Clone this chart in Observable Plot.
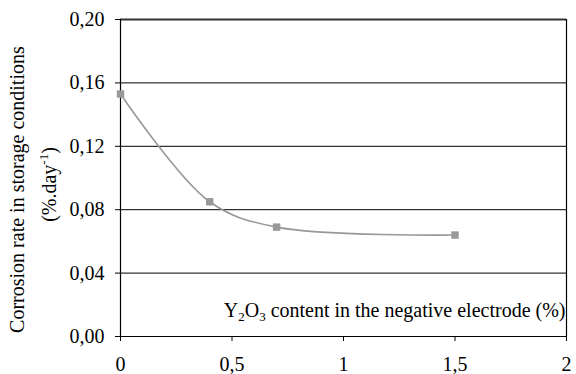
<!DOCTYPE html>
<html>
<head>
<meta charset="utf-8">
<script src="https://cdn.jsdelivr.net/npm/d3@7"></script>
<script src="https://cdn.jsdelivr.net/npm/@observablehq/plot@0.6"></script>
<style>
  html, body { margin: 0; padding: 0; background: #fff; }
  #chart { width: 576px; height: 374px; }
</style>
</head>
<body>
<div id="chart"></div>
<script>
// Data
const y2o3Content = [0, 0.4, 0.7, 1.5];          // % Y2O3 in negative electrode
const corrosionRate = [0.153, 0.085, 0.069, 0.064]; // %.day^-1
const xTicks = [0, 0.5, 1, 1.5, 2];
const yTicks = [0, 0.04, 0.08, 0.12, 0.16, 0.2];
const xLabel = ["Y", "2", "O", "3", " content in the negative electrode (%)"];
const yLabelLine1 = "Corrosion rate in storage conditions";
const yLabelLine2 = ["(%.day", "-1", ")"];

const data = y2o3Content.map((x, i) => ({x, y: corrosionRate[i]}));
const comma = s => String(s).replace(".", ",");
const font = "Liberation Serif, Times New Roman, serif";

const plot = Plot.plot({
  width: 576,
  height: 374,
  marginLeft: 120,
  marginRight: 10,
  marginTop: 19,
  marginBottom: 38,
  style: {background: "#fff", color: "#000", overflow: "visible", fontFamily: font, fontSize: "20px"},
  x: {domain: [0, 2], ticks: xTicks, tickFormat: d => comma(d), tickSize: 5, tickPadding: 15, label: null},
  y: {domain: [0, 0.2], ticks: yTicks, tickFormat: d => comma(d3.format(".2f")(d)), tickSize: 5, tickPadding: 11, label: null},
  marks: [
    Plot.ruleY(yTicks.slice(0, -1), {stroke: "#000", strokeWidth: 1}),
    Plot.ruleY([0.2], {stroke: "#333", strokeWidth: 2}),
    Plot.ruleX([0, 2], {stroke: "#000", strokeWidth: 1.2}),
    Plot.line(data, {x: "x", y: "y", curve: "catmull-rom", stroke: "#999", strokeWidth: 1.6}),
    Plot.dot(data, {x: "x", y: "y", symbol: "square", r: 4.2, fill: "#999", stroke: "none"}),
    Plot.text([xLabel.join("")], {frameAnchor: "bottom-right", lineAnchor: "bottom", dx: -1, dy: -20, textAnchor: "end", className: "xlab", fill: "#000"}),
    Plot.text([yLabelLine1], {x: -0.46, y: 0.0927, textAnchor: "middle", lineAnchor: "middle", rotate: -90, className: "ylab1", fill: "#000"}),
    Plot.text([yLabelLine2.join("")], {x: -0.318, y: 0.0959, textAnchor: "middle", lineAnchor: "middle", rotate: -90, className: "ylab2", fill: "#000"})
  ]
});
document.getElementById("chart").appendChild(plot);

// Rich text: subscripts / superscripts
const svg = d3.select(plot);
const xt = svg.select("g.xlab text");
xt.text(null);
xLabel.forEach((s, i) => {
  const t = xt.append("tspan").text(s);
  if (i === 1 || i === 3) t.attr("font-size", 13).attr("dy", 4);
  else if (i === 2 || i === 4) t.attr("dy", -4);
});
const yt = svg.select("g.ylab2 text");
yt.text(null);
yLabelLine2.forEach((s, i) => {
  const t = yt.append("tspan").text(s);
  if (i === 1) t.attr("font-size", 13).attr("dy", -8);
  else if (i === 2) t.attr("dy", 8);
});
</script>
</body>
</html>
